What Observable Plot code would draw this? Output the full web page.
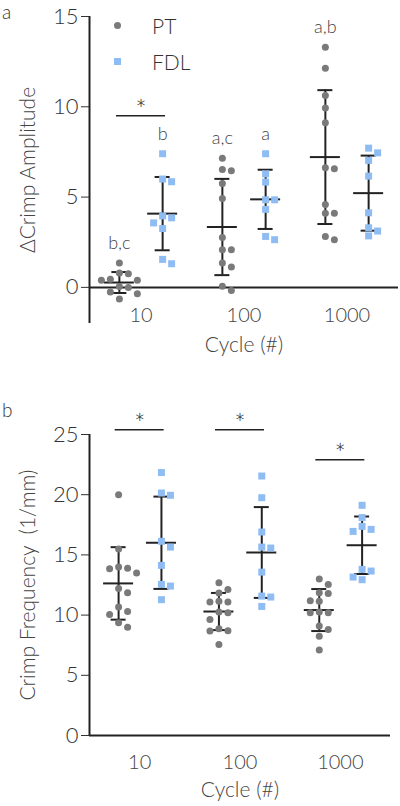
<!DOCTYPE html>
<html>
<head>
<meta charset="utf-8">
<script src="https://cdn.jsdelivr.net/npm/d3@7"></script>
<script src="https://cdn.jsdelivr.net/npm/@observablehq/plot@0.6"></script>
<style>
  html, body { margin: 0; padding: 0; background: #fff; }
  #wrap { position: relative; width: 400px; height: 806px; overflow: hidden; font-family: Lato, "Open Sans", sans-serif; font-weight: 300; color: #333; }
  .pl { position: absolute; left: 0; }
  .lab { position: absolute; font-size: 19px; color: #333; line-height: 1.2; }
  .leg { position: absolute; font-size: 21px; color: #333; line-height: 1; }
</style>
</head>
<body>
<div id="wrap"></div>
<script>
// ---------- data ----------
const cycles = ["10", "100", "1000"];
const groups = ["PT", "FDL"];

// ΔCrimp amplitude (panel a)
const ampPT = [
  [1.35, 0.8, 0.75, 0.45, 0.4, 0.4, 0.05, 0.0, -0.25, -0.35, -0.65],
  [7.15, 6.53, 6.46, 5.75, 4.92, 2.76, 2.09, 2.09, 1.35, 1.13, 0.06, -0.17],
  [13.3, 12.14, 10.63, 9.94, 9.11, 6.62, 6.57, 4.59, 4.11, 4.11, 2.82, 2.64]
];
const ampFDL = [
  [7.4, 6.0, 5.85, 3.96, 3.85, 3.57, 3.26, 1.55, 1.31],
  [7.4, 6.29, 5.83, 4.85, 4.85, 4.32, 2.82, 2.64],
  [7.71, 7.45, 7.03, 6.16, 4.13, 3.3, 3.12, 2.85]
];
const ampLettersPT = ["b,c", "a,c", "a,b"];
const ampLettersFDL = ["b", "a", ""];
const ampSigCycles = [0];
const ampSigHeights = [9.5];
const ampTicks = [0, 5, 10, 15];

// Crimp frequency (panel b)
const freqPT = [
  [20.0, 15.5, 14.0, 13.9, 13.85, 13.5, 12.2, 11.86, 10.67, 10.3, 10.06, 9.37, 9.0],
  [12.69, 12.13, 11.83, 11.16, 11.08, 11.08, 10.25, 10.2, 9.64, 8.87, 8.7, 8.67, 7.56],
  [13.0, 12.55, 11.85, 11.8, 11.2, 11.15, 10.25, 10.2, 10.2, 9.1, 8.8, 8.25, 7.1]
];
const freqFDL = [
  [21.84, 20.14, 19.95, 16.13, 15.65, 14.13, 12.55, 12.41, 11.28],
  [21.55, 19.75, 16.9, 15.65, 15.57, 13.57, 11.58, 11.5, 10.72],
  [19.12, 18.1, 17.37, 17.12, 16.95, 13.8, 13.66, 13.16, 12.94]
];
const freqSigCycles = [0, 1, 2];
const freqSigHeights = [25.4, 25.4, 22.9];
const freqTicks = [0, 5, 10, 15, 20, 25];

// ---------- styling ----------
const GRAY = "#7a7a7a";
const BLUE = "#8fbdf3";
const INK = "#222";
const FONT = "Lato, 'Open Sans', sans-serif";
const W = 400;
const ML = 89;
const xDomain = [-0.5, 2.5];

// simple beeswarm: offsets (px) so markers do not overlap
function swarm(values, pxPerY, step, minDist) {
  const order = d3.range(values.length).sort((a, b) => values[b] - values[a]);
  const placed = [];
  const out = new Array(values.length);
  for (const i of order) {
    const py = values[i] * pxPerY;
    for (let k = 0; k < 40; k++) {
      const off = k === 0 ? 0 : (k % 2 ? 1 : -1) * Math.ceil(k / 2) * step;
      if (placed.every(p => Math.hypot(p.px - off, p.py - py) >= minDist)) {
        placed.push({px: off, py});
        out[i] = off;
        break;
      }
    }
  }
  return out;
}

function panel(cfg) {
  const {height, marginTop, marginBottom, marginRight, yDomain, ticks, pt, fdl,
         lettersPT, lettersFDL, sigCycles, sigHeights, yTitle, yTitleDx,
         xLabelDy, xTitleDy, offPT, offFDL} = cfg;
  const pxPerX = (W - ML - marginRight) / (xDomain[1] - xDomain[0]);
  const pxPerY = (height - marginTop - marginBottom) / (yDomain[1] - yDomain[0]);
  const points = [], stats = [];
  [[pt, "PT", offPT, lettersPT], [fdl, "FDL", offFDL, lettersFDL]].forEach(([arr, g, off, letters]) => {
    arr.forEach((vals, ci) => {
      const cx = ci + off;
      const offs = swarm(vals, pxPerY, 9, 8);
      vals.forEach((v, j) => points.push({group: g, cycle: cycles[ci], x: cx + offs[j] / pxPerX, v}));
      const m = d3.mean(vals), s = d3.deviation(vals);
      stats.push({group: g, x: cx, mean: m, lo: m - s, hi: m + s, max: d3.max(vals), letter: letters[ci]});
    });
  });
  const meanHalf = 15 / pxPerX, capHalf = 7.5 / pxPerX, sigHalf = 24.5 / pxPerX;
  const sig = sigCycles.map((c, i) => ({x: c, y: sigHeights[i]}));
  return Plot.plot({
    width: W, height, marginLeft: ML, marginRight, marginTop, marginBottom,
    style: {fontFamily: FONT, fontSize: "22px", color: "#333", background: "transparent", fontWeight: 300},
    x: {domain: xDomain, axis: null},
    y: {domain: yDomain, ticks, tickSize: 8, tickPadding: 3, label: null, tickFormat: d3.format("d")},
    marks: [
      Plot.ruleX([xDomain[0]], {y1: yDomain[0], y2: yDomain[1], stroke: INK, strokeWidth: 2}),
      Plot.ruleY([0], {x1: xDomain[0], x2: xDomain[1], stroke: INK, strokeWidth: 2}),
      // error bars (mean ± SD)
      Plot.ruleX(stats, {x: "x", y1: "lo", y2: "hi", stroke: INK, strokeWidth: 2}),
      Plot.ruleY(stats, {y: "mean", x1: d => d.x - meanHalf, x2: d => d.x + meanHalf, stroke: INK, strokeWidth: 2}),
      Plot.ruleY(stats, {y: "hi", x1: d => d.x - capHalf, x2: d => d.x + capHalf, stroke: INK, strokeWidth: 2}),
      Plot.ruleY(stats, {y: "lo", x1: d => d.x - capHalf, x2: d => d.x + capHalf, stroke: INK, strokeWidth: 2}),
      // points
      Plot.dot(points.filter(d => d.group === "PT"), {x: "x", y: "v", r: 3.5, fill: GRAY, symbol: "circle"}),
      Plot.dot(points.filter(d => d.group === "FDL"), {x: "x", y: "v", r: 3.95, fill: BLUE, symbol: "square"}),
      // group letters
      Plot.text(stats.filter(d => d.letter), {x: "x", y: "max", text: "letter", dy: -20, fontSize: 18, fill: "#444", lineAnchor: "middle"}),
      // significance bars
      Plot.ruleY(sig, {y: "y", x1: d => d.x - sigHalf, x2: d => d.x + sigHalf, stroke: INK, strokeWidth: 1.6}),
      Plot.text(sig, {x: "x", y: "y", text: () => "*", dy: -5, fontSize: 27, fill: INK, lineAnchor: "middle"}),
      // x tick labels and titles
      Plot.text(cycles, {x: (d, i) => i, frameAnchor: "bottom", lineAnchor: "middle", dy: xLabelDy, fontSize: 20, fill: "#444"}),
      Plot.text(["Cycle (#)"], {frameAnchor: "bottom", lineAnchor: "middle", textAnchor: "middle", dy: xTitleDy, fontSize: 21, fill: "#444"}),
      Plot.text([yTitle], {frameAnchor: "left", rotate: -90, textAnchor: "middle", lineAnchor: "middle", dx: yTitleDx, fontSize: 21, fill: "#444"})
    ]
  });
}

const topPlot = panel({
  height: 360, marginTop: 16, marginBottom: 37, marginRight: 2,
  yDomain: [-2, 15], ticks: ampTicks, pt: ampPT, fdl: ampFDL,
  lettersPT: ampLettersPT, lettersFDL: ampLettersFDL,
  sigCycles: ampSigCycles, sigHeights: ampSigHeights,
  yTitle: "ΔCrimp Amplitude", yTitleDx: -61, xLabelDy: -8, xTitleDy: 22,
  offPT: -0.21, offFDL: 0.21
});
const bottomPlot = panel({
  height: 446, marginTop: 74, marginBottom: 71, marginRight: 10,
  yDomain: [0, 25], ticks: freqTicks, pt: freqPT, fdl: freqFDL,
  lettersPT: ["", "", ""], lettersFDL: ["", "", ""],
  sigCycles: freqSigCycles, sigHeights: freqSigHeights,
  yTitle: "Crimp Frequency  (1/mm)", yTitleDx: -61, xLabelDy: 27, xTitleDy: 55,
  offPT: -0.21, offFDL: 0.217
});

const wrap = document.getElementById("wrap");
topPlot.classList.add("pl"); topPlot.style.top = "0px";
bottomPlot.classList.add("pl"); bottomPlot.style.top = "360px";
wrap.appendChild(topPlot);
wrap.appendChild(bottomPlot);

function addDiv(cls, text, css) {
  const d = document.createElement("div");
  d.className = cls; d.textContent = text;
  Object.assign(d.style, css);
  wrap.appendChild(d);
  return d;
}
addDiv("lab", "a", {left: "2px", top: "1px"});
addDiv("lab", "b", {left: "2px", top: "399px"});
// legend
addDiv("leg", "", {left: "113.5px", top: "21.5px", width: "7px", height: "7px", borderRadius: "50%", background: GRAY});
addDiv("leg", "PT", {left: "152px", top: "15px"});
addDiv("leg", "", {left: "113.5px", top: "57.5px", width: "7px", height: "7px", background: BLUE});
addDiv("leg", "FDL", {left: "152px", top: "51px"});
</script>
</body>
</html>
